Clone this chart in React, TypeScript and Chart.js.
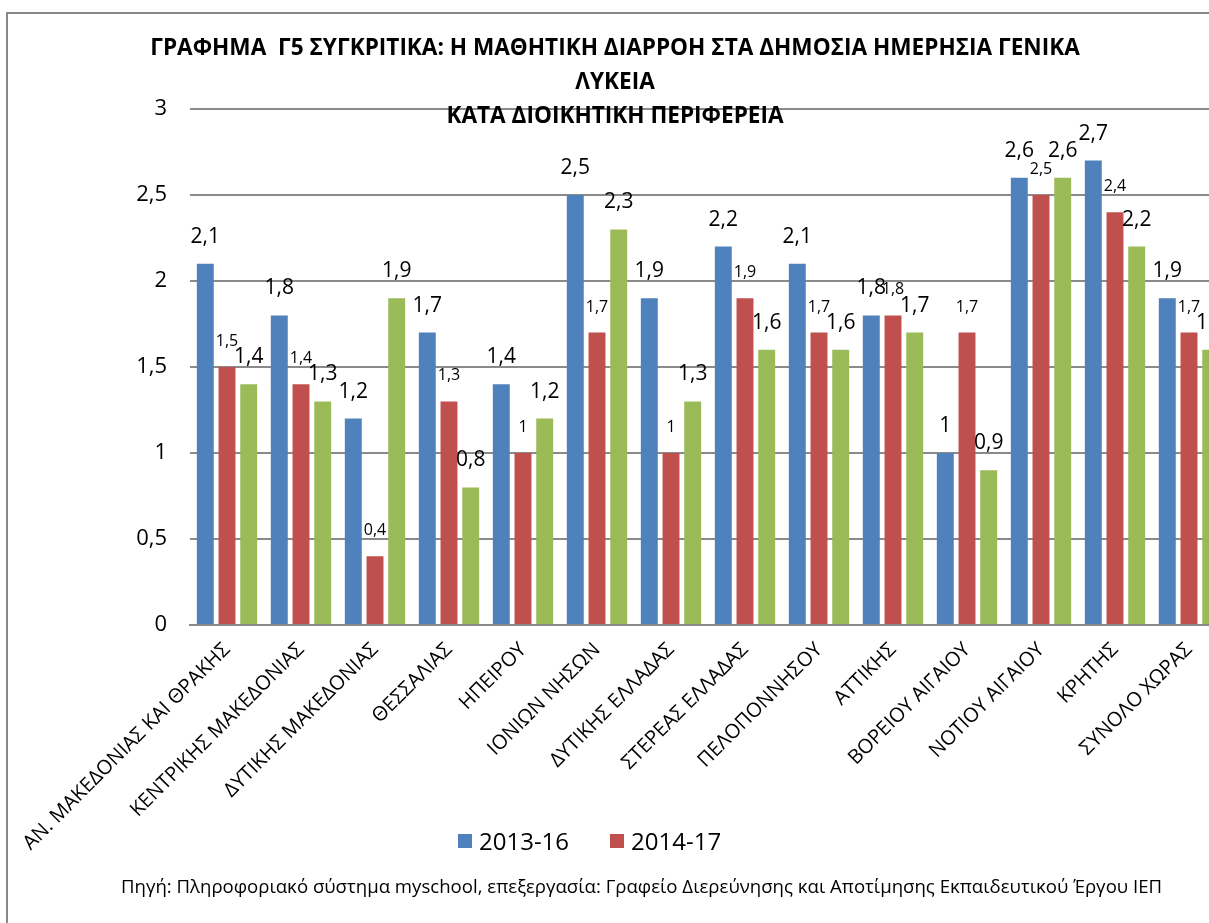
import React, { useEffect, useRef } from 'react';
import { Chart, registerables } from 'chart.js';

Chart.register(...registerables);

const categories = [
  'ΑΝ. ΜΑΚΕΔΟΝΙΑΣ ΚΑΙ ΘΡΑΚΗΣ',
  'ΚΕΝΤΡΙΚΗΣ ΜΑΚΕΔΟΝΙΑΣ',
  'ΔΥΤΙΚΗΣ ΜΑΚΕΔΟΝΙΑΣ',
  'ΘΕΣΣΑΛΙΑΣ',
  'ΗΠΕΙΡΟΥ',
  'ΙΟΝΙΩΝ ΝΗΣΩΝ',
  'ΔΥΤΙΚΗΣ ΕΛΛΑΔΑΣ',
  'ΣΤΕΡΕΑΣ ΕΛΛΑΔΑΣ',
  'ΠΕΛΟΠΟΝΝΗΣΟΥ',
  'ΑΤΤΙΚΗΣ',
  'ΒΟΡΕΙΟΥ ΑΙΓΑΙΟΥ',
  'ΝΟΤΙΟΥ ΑΙΓΑΙΟΥ',
  'ΚΡΗΤΗΣ',
  'ΣΥΝΟΛΟ ΧΩΡΑΣ',
];

const values2013_16 = [2.1, 1.8, 1.2, 1.7, 1.4, 2.5, 1.9, 2.2, 2.1, 1.8, 1.0, 2.6, 2.7, 1.9];
const values2014_17 = [1.5, 1.4, 0.4, 1.3, 1.0, 1.7, 1.0, 1.9, 1.7, 1.8, 1.7, 2.5, 2.4, 1.7];
const values2015_18 = [1.4, 1.3, 1.9, 0.8, 1.2, 2.3, 1.3, 1.6, 1.6, 1.7, 0.9, 2.6, 2.2, 1.6];

const seriesLabels = ['2013-16', '2014-17', ''];
const seriesColors = ['#4F81BD', '#C0504D', '#9BBB59'];
const labelSizes = [21, 16, 21];

const yMin = 0;
const yMax = 3;
const yStep = 0.5;

const titleLines = [
  'ΓΡΑΦΗΜΑ  Γ5 ΣΥΓΚΡΙΤΙΚΑ: Η ΜΑΘΗΤΙΚΗ ΔΙΑΡΡΟΗ ΣΤΑ ΔΗΜΟΣΙΑ ΗΜΕΡΗΣΙΑ ΓΕΝΙΚΑ',
  'ΛΥΚΕΙΑ',
  'ΚΑΤΑ ΔΙΟΙΚΗΤΙΚΗ ΠΕΡΙΦΕΡΕΙΑ',
];
const sourceText =
  'Πηγή: Πληροφοριακό σύστημα myschool, επεξεργασία: Γραφείο Διερεύνησης και Αποτίμησης Εκπαιδευτικού Έργου ΙΕΠ';

const FONT = "'Open Sans', 'Noto Sans', 'DejaVu Sans', sans-serif";
const fmt = (v: number) => String(v).replace('.', ',');

const CANVAS_W = 1240;
const CANVAS_H = 923;

const valueLabelPlugin = {
  id: 'valueLabels',
  afterDatasetsDraw(chart: any) {
    const ctx = chart.ctx;
    chart.data.datasets.forEach((ds: any, di: number) => {
      const meta = chart.getDatasetMeta(di);
      ctx.save();
      ctx.font = `${labelSizes[di]}px ${FONT}`;
      ctx.fillStyle = '#000000';
      ctx.textAlign = 'center';
      ctx.textBaseline = 'alphabetic';
      meta.data.forEach((el: any, i: number) => {
        ctx.fillText(fmt(ds.data[i]), el.x, el.y - 21);
      });
      ctx.restore();
    });
  },
};

export default function App() {
  const ref = useRef<HTMLCanvasElement | null>(null);

  useEffect(() => {
    if (!ref.current) return;
    const datasets = [values2013_16, values2014_17, values2015_18].map((d, i) => ({
      label: seriesLabels[i],
      data: d,
      backgroundColor: seriesColors[i],
      borderWidth: 0,
      categoryPercentage: 0.88,
      barPercentage: 0.78,
    }));
    const chart = new Chart(ref.current, {
      type: 'bar',
      data: { labels: categories, datasets },
      plugins: [valueLabelPlugin],
      options: {
        animation: false,
        responsive: false,
        layout: { padding: { left: 0, top: 109, right: 14, bottom: 0 } },
        plugins: {
          legend: { display: false },
          title: { display: false },
          tooltip: { enabled: false },
        },
        scales: {
          x: {
            grid: { display: false, drawTicks: false },
            border: { display: true, color: '#8a8a8a', width: 2 },
            ticks: {
              color: '#000',
              font: { family: FONT, size: 20 },
              minRotation: 45,
              maxRotation: 45,
              autoSkip: false,
              padding: 13,
            },
            afterFit: (s: any) => {
              s.height = CANVAS_H - 625;
              s.paddingLeft = 0;
              s.paddingRight = 0;
            },
          },
          y: {
            min: yMin,
            max: yMax,
            grid: { color: '#8a8a8a', lineWidth: 2, drawTicks: false },
            border: { display: false },
            ticks: {
              stepSize: yStep,
              color: '#000',
              font: { family: FONT, size: 22 },
              padding: 23,
              callback: (v: any) => fmt(Number(v)),
            },
            afterFit: (s: any) => {
              s.width = 190;
            },
          },
        },
      },
    });
    return () => chart.destroy();
  }, []);

  return (
    <div style={{ position: 'fixed', inset: 0, overflow: 'hidden', background: '#fff', fontFamily: FONT }}>
      <div
        style={{
          position: 'absolute',
          left: 6,
          top: 12,
          width: 1260,
          height: 960,
          border: '2px solid #878787',
          boxSizing: 'border-box',
        }}
      />
      <canvas
        ref={ref}
        width={CANVAS_W}
        height={CANVAS_H}
        style={{ position: 'absolute', left: 0, top: 0, width: CANVAS_W, height: CANVAS_H }}
      />
      <div
        style={{
          position: 'absolute',
          left: 0,
          top: 30,
          width: 1230,
          textAlign: 'center',
          fontWeight: 700,
          fontSize: 22.6,
          lineHeight: '34px',
          color: '#000',
        }}
      >
        {titleLines.map((t, i) => (
          <div key={i} style={{ whiteSpace: 'pre' }}>{t}</div>
        ))}
      </div>
      <div style={{ position: 'absolute', left: 458, top: 824, display: 'flex', alignItems: 'center', fontSize: 24, lineHeight: '34px', color: '#000' }}>
        <span style={{ width: 14, height: 14, background: seriesColors[0], marginRight: 7, display: 'inline-block' }} />
        <span style={{ marginRight: 41 }}>{seriesLabels[0]}</span>
        <span style={{ width: 14, height: 14, background: seriesColors[1], marginRight: 7, display: 'inline-block' }} />
        <span>{seriesLabels[1]}</span>
      </div>
      <div
        style={{
          position: 'absolute',
          left: 0,
          top: 873,
          width: 1283,
          textAlign: 'center',
          fontSize: 18.6,
          lineHeight: '26px',
          color: '#000',
        }}
      >
        {sourceText}
      </div>
    </div>
  );
}
